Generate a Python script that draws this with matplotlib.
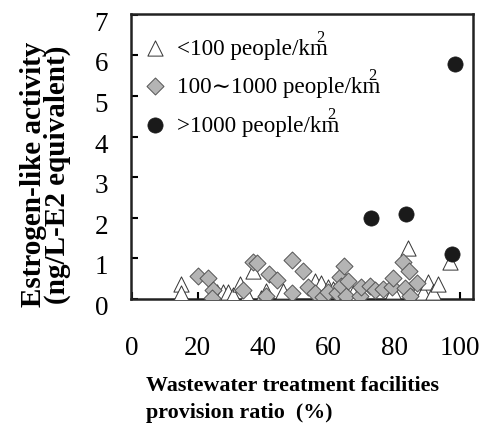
import matplotlib
matplotlib.use("Agg")
import matplotlib.pyplot as plt
from matplotlib.transforms import ScaledTranslation

plt.rcParams['font.family'] = ['Liberation Serif', 'DejaVu Serif']

# <100 people/km2
low_x = [15.1, 15.1, 25.8, 27.8, 29.3, 30.8, 32.9, 35.0, 36.9, 39.5, 41.0, 46.0,
         55.8, 57.8, 59.8, 61.3, 67.4, 79.6, 84.2, 87.0, 88.7, 90.3, 91.8, 93.4, 97.0]
low_y = [0.37, 0.15, 0.18, 0.18, 0.18, 0.10, 0.37, 0.10, 0.69, 0.02, 0.20, 0.20,
         0.45, 0.40, 0.30, 0.25, 0.16, 0.20, 1.25, 0.20, 0.18, 0.43, 0.18, 0.37, 0.92]

# 100~1000 people/km2
mid_x = [20.0, 23.1, 24.6, 24.3, 33.9, 36.9, 38.1, 40.8, 41.9, 44.1, 48.9, 48.9,
         52.2, 53.8, 55.8, 58.3, 59.8, 62.4, 63.4, 63.9, 64.6, 65.4, 66.0, 69.7,
         70.0, 72.6, 74.1, 76.6, 79.2, 79.7, 82.7, 83.2, 84.5, 84.8, 86.8]
mid_y = [0.56, 0.51, 0.23, 0.02, 0.21, 0.92, 0.88, 0.08, 0.62, 0.47, 0.97, 0.16,
         0.68, 0.29, 0.15, 0.05, 0.18, 0.16, 0.53, 0.33, 0.82, 0.08, 0.45, 0.07,
         0.29, 0.33, 0.21, 0.25, 0.29, 0.51, 0.90, 0.26, 0.70, 0.07, 0.39]

# >1000 people/km2
high_x = [73.0, 83.5, 97.5, 98.5]
high_y = [2.00, 2.09, 1.11, 5.78]

labels = ['<100 people/km', '100\u223c1000 people/km', '>1000 people/km']
xticks = [0, 20, 40, 60, 80, 100]
yticks = [0, 1, 2, 3, 4, 5, 6, 7]

fig = plt.figure(figsize=(4.97, 4.27), dpi=100)
ax = fig.add_axes([0.2636, 0.2974, 0.688, 0.6675])

h1 = ax.scatter(low_x, low_y, marker='^', s=120, facecolor='white',
                edgecolor='#333333', linewidth=0.7, zorder=3)
h2 = ax.scatter(mid_x, mid_y, marker='D', s=75, facecolor='#b4b4b4',
                edgecolor='#555555', linewidth=0.7, zorder=4)
h3 = ax.scatter(high_x, high_y, marker='o', s=120, facecolor='#1a1a1a',
                edgecolor='#1a1a1a', linewidth=0.5, zorder=5)

ax.set_xlim(-0.3, 104)
ax.set_ylim(0, 7.02)
ax.set_xticks(xticks)
ax.set_yticks(yticks)
ax.tick_params(direction='in', length=5, width=1.5, labelsize=19.5)
ax.tick_params(axis='x', pad=26)
ax.tick_params(axis='y', pad=16.5)
for sp in ax.spines.values():
    sp.set_linewidth(1.8)
    sp.set_color('#222222')

# y tick labels sit slightly below their ticks
shift = ScaledTranslation(0, -4 / 72, fig.dpi_scale_trans)
for lab in ax.get_yticklabels():
    lab.set_transform(lab.get_transform() + shift)

ax.set_xlabel('Wastewater treatment facilities\nprovision ratio  (%)',
              fontsize=15.8, fontweight='bold', ha='left', x=0.045,
              linespacing=1.45, labelpad=11)
ax.set_ylabel('Estrogen-like activity\n(ng/L-E2 equivalent)',
              fontsize=21, fontweight='bold', linespacing=0.85, labelpad=17,
              y=0.44)

leg = ax.legend([h1, h2, h3], labels, loc='upper left', frameon=False,
                fontsize=16.7, handlelength=1.3, handletextpad=0.3,
                labelspacing=0.75, borderaxespad=0.0,
                bbox_to_anchor=(0.0, 0.95))

# superscript 2 sitting above the "m" of each km label
fig.canvas.draw()
renderer = fig.canvas.get_renderer()
inv = fig.transFigure.inverted()
for t in leg.get_texts():
    bb = t.get_window_extent(renderer)
    x, y = inv.transform((bb.x1 - 8, bb.y1 - 7))
    fig.text(x, y, '2', fontsize=12, ha='center', va='bottom')

fig.savefig('out.png', dpi=100)
